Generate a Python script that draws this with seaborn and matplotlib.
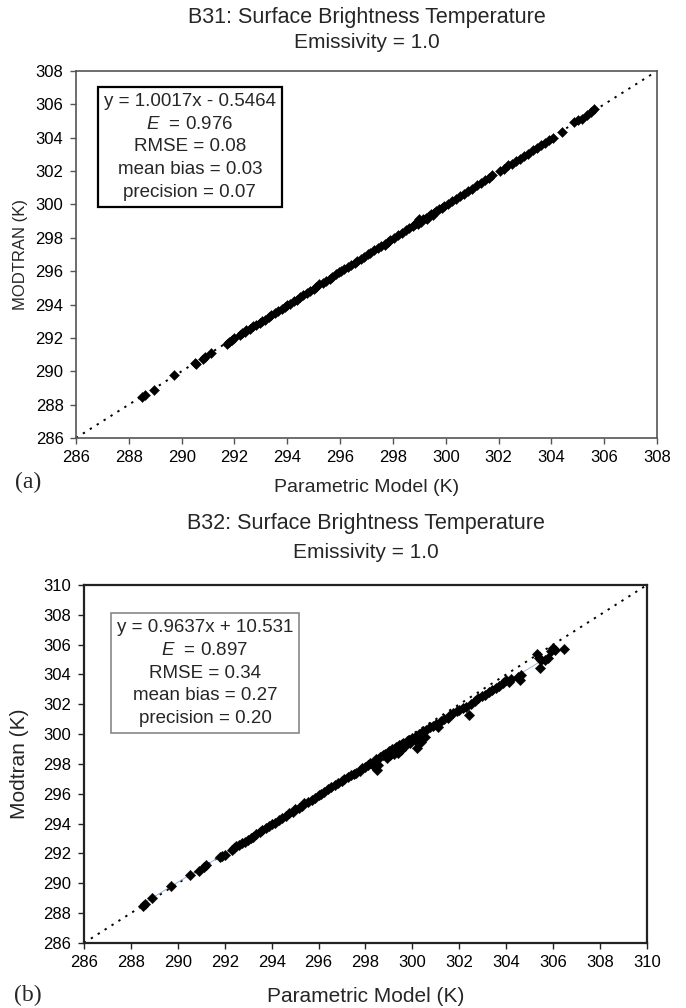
import matplotlib
matplotlib.use("Agg")
import matplotlib.pyplot as plt
import seaborn as sns
import pandas as pd

# B31 panel: parametric model vs MODTRAN brightness temperature (K)
b31_param = [288.5, 288.6, 288.95, 289.7, 290.5, 290.55, 290.8, 290.9, 291.1, 291.7,
             291.8, 291.9, 292.0, 292.2, 292.3, 292.4, 292.45, 292.6, 292.7, 292.8,
             292.95, 293.05, 293.15, 293.3, 293.4, 293.55, 293.65, 293.8, 293.9, 294.0,
             294.1, 294.25, 294.35, 294.5, 294.6, 294.75, 294.85, 295.0, 295.1, 295.2,
             295.35, 295.45, 295.6, 295.7, 295.85, 295.95, 296.05, 296.15, 296.3, 296.4,
             296.55, 296.65, 296.8, 296.9, 297.05, 297.15, 297.3, 297.45, 297.55, 297.7,
             297.8, 297.9, 298.05, 298.2, 298.35, 298.5, 298.6, 298.75, 298.85, 298.95,
             299.05, 299.15, 299.25, 299.35, 299.45, 299.55, 299.65, 299.75, 299.85, 299.95,
             300.1, 300.25, 300.4, 300.55, 300.7, 300.85, 301.0, 301.2, 301.35, 301.5,
             301.65, 301.75, 302.05, 302.2, 302.35, 302.5, 302.65, 302.8, 302.95, 303.1,
             303.3, 303.45, 303.6, 303.75, 303.9, 304.05, 304.4, 304.85, 305.0, 305.15,
             305.35, 305.5, 305.6, 299.0, 299.3, 299.5, 298.9, 297.7]
b31_modtran = [288.45, 288.55, 288.9, 289.75, 290.5, 290.45, 290.75, 290.85, 291.1, 291.65,
               291.75, 291.85, 292.0, 292.15, 292.3, 292.35, 292.5, 292.55, 292.7, 292.75,
               292.9, 293.0, 293.1, 293.25, 293.4, 293.5, 293.6, 293.75, 293.85, 294.0,
               294.05, 294.2, 294.3, 294.45, 294.6, 294.7, 294.8, 294.95, 295.05, 295.2,
               295.3, 295.4, 295.55, 295.65, 295.8, 295.95, 296.0, 296.1, 296.25, 296.35,
               296.5, 296.6, 296.75, 296.85, 297.0, 297.1, 297.25, 297.4, 297.5, 297.65,
               297.75, 297.85, 298.0, 298.15, 298.3, 298.45, 298.6, 298.7, 298.8, 298.85,
               298.95, 299.1, 299.2, 299.3, 299.45, 299.5, 299.6, 299.7, 299.8, 299.9,
               300.05, 300.2, 300.35, 300.5, 300.65, 300.8, 300.95, 301.15, 301.3, 301.45,
               301.6, 301.75, 302.0, 302.15, 302.35, 302.45, 302.6, 302.75, 302.9, 303.05,
               303.25, 303.4, 303.55, 303.7, 303.85, 304.0, 304.35, 304.95, 305.05, 305.1,
               305.35, 305.55, 305.7, 299.1, 299.15, 299.35, 298.95, 297.55]

# B32 panel
b32_param = [288.5, 288.6, 288.9, 289.7, 290.5, 290.9, 291.1, 291.2, 291.8, 291.9,
             292.0, 292.3, 292.4, 292.5, 292.6, 292.75, 292.85, 293.0, 293.1, 293.2,
             293.35, 293.5, 293.6, 293.75, 293.9, 294.0, 294.15, 294.3, 294.45, 294.6,
             294.75, 294.9, 295.0, 295.15, 295.3, 295.4, 295.55, 295.7, 295.85, 296.0,
             296.1, 296.25, 296.4, 296.55, 296.7, 296.85, 297.0, 297.1, 297.25, 297.4,
             297.5, 297.6, 297.75, 297.85, 298.0, 298.1, 298.2, 298.3, 298.4, 298.5,
             298.45, 298.6, 298.75, 298.85, 298.9, 299.0, 299.05, 299.15, 299.2, 299.3,
             299.35, 299.45, 299.5, 299.6, 299.7, 299.75, 299.85, 299.9, 300.0, 300.1,
             300.15, 300.2, 300.3, 300.35, 300.45, 300.55, 300.6, 300.75, 300.9, 301.0,
             301.1, 301.2, 301.35, 301.5, 301.6, 301.75, 301.9, 302.0, 302.15, 302.3,
             302.4, 302.5, 302.65, 302.8, 302.95, 303.1, 303.25, 303.4, 303.55, 303.7,
             303.85, 304.0, 304.1, 304.2, 304.5, 304.65, 304.6, 305.4, 305.45, 305.5,
             305.65, 305.8, 305.9, 306.0, 306.1, 306.45, 305.3, 298.55, 299.4, 300.25]
b32_modtran = [288.5, 288.6, 289.0, 289.8, 290.55, 290.85, 291.1, 291.2, 291.75, 291.85,
               291.9, 292.2, 292.4, 292.5, 292.55, 292.7, 292.8, 292.9, 293.05, 293.1,
               293.3, 293.45, 293.55, 293.7, 293.85, 293.95, 294.05, 294.25, 294.4, 294.5,
               294.7, 294.8, 294.95, 295.05, 295.2, 295.35, 295.45, 295.6, 295.75, 295.9,
               296.0, 296.15, 296.3, 296.45, 296.6, 296.75, 296.85, 297.0, 297.1, 297.25,
               297.35, 297.4, 297.55, 297.7, 297.8, 297.95, 298.05, 297.9, 297.8, 297.6,
               298.3, 298.45, 298.6, 298.65, 298.4, 298.85, 298.6, 299.0, 298.7, 299.15,
               298.9, 299.25, 298.95, 299.4, 299.2, 299.55, 299.6, 299.4, 299.75, 299.6,
               299.9, 299.1, 300.0, 299.5, 300.2, 299.8, 300.3, 300.45, 300.55, 300.7,
               300.5, 300.85, 301.0, 301.1, 301.25, 301.4, 301.55, 301.6, 301.75, 301.85,
               301.3, 302.05, 302.2, 302.4, 302.55, 302.65, 302.8, 302.95, 303.1, 303.2,
               303.4, 303.6, 303.5, 303.7, 303.8, 303.95, 303.6, 305.1, 304.4, 304.95,
               305.0, 305.1, 305.6, 305.75, 305.65, 305.7, 305.35, 297.95, 298.75, 299.6]

b31_ticks = list(range(286, 309, 2))
b32_ticks = list(range(286, 311, 2))

b31_stats = "y = 1.0017x - 0.5464\n$\\it{E}$  = 0.976\nRMSE = 0.08\nmean bias = 0.03\nprecision = 0.07"
b32_stats = "y = 0.9637x + 10.531\n$\\it{E}$  = 0.897\nRMSE = 0.34\nmean bias = 0.27\nprecision = 0.20"

sns.set_theme(style="white")
plt.rcParams['font.family'] = ['Liberation Sans', 'DejaVu Sans']
plt.rcParams['mathtext.fontset'] = 'custom'
plt.rcParams['mathtext.it'] = 'Liberation Sans:italic'
plt.rcParams['mathtext.rm'] = 'Liberation Sans'

df_a = pd.DataFrame({'param': b31_param, 'modtran': b31_modtran})
df_b = pd.DataFrame({'param': b32_param, 'modtran': b32_modtran})

fig = plt.figure(figsize=(6.86, 10.08), dpi=100)
ax_a = fig.add_axes([0.1108, 0.5655, 0.8469, 0.3641])
ax_b = fig.add_axes([0.1224, 0.0645, 0.8207, 0.3552])


def style_axes(ax, ticks, spine_color, spine_lw, tick_size):
    ax.set_xlim(ticks[0], ticks[-1])
    ax.set_ylim(ticks[0], ticks[-1])
    ax.set_xticks(ticks)
    ax.set_yticks(ticks)
    for s in ax.spines.values():
        s.set_color(spine_color)
        s.set_linewidth(spine_lw)
    ax.tick_params(axis='both', which='major', direction='out', length=4, width=1,
                   color=spine_color, labelcolor='black', pad=5, bottom=True, left=True)
    for lab in ax.get_xticklabels() + ax.get_yticklabels():
        lab.set_fontsize(tick_size)


# panel (a)
ax_a.axline((286, 286), slope=1, color='black', lw=1.4, linestyle=(0, (1.2, 3.0)), zorder=1)
sns.scatterplot(data=df_a, x='param', y='modtran', ax=ax_a, marker='D', s=26,
                color='black', edgecolor='black', linewidth=0.3, zorder=3)
style_axes(ax_a, b31_ticks, '#555555', 1.2, 12)
ax_a.set_xlabel('Parametric Model (K)', fontsize=14, labelpad=10)
ax_a.set_ylabel('MODTRAN (K)', fontsize=12, labelpad=5)
ax_a.text(0.196, 0.793, b31_stats, transform=ax_a.transAxes, ha='center', va='center',
          multialignment='center', fontsize=13.5, linespacing=1.45,
          bbox=dict(boxstyle='square,pad=0.3', fc='white', ec='black', lw=1.6))

# panel (b)
ax_b.axline((286, 286), slope=1, color='black', lw=1.4, linestyle=(0, (1.2, 3.0)), zorder=1)
sns.regplot(data=df_b, x='param', y='modtran', ax=ax_b, scatter=False, ci=None,
            truncate=True, line_kws={'color': '#8fa8d8', 'lw': 0.6, 'zorder': 2})
sns.scatterplot(data=df_b, x='param', y='modtran', ax=ax_b, marker='D', s=28,
                color='black', edgecolor='black', linewidth=0.3, zorder=3)
style_axes(ax_b, b32_ticks, '#222222', 1.6, 12)
ax_b.set_xlabel('Parametric Model (K)', fontsize=15, labelpad=12)
ax_b.set_ylabel('Modtran (K)', fontsize=15, labelpad=10)
ax_b.text(0.215, 0.754, b32_stats, transform=ax_b.transAxes, ha='center', va='center',
          multialignment='center', fontsize=13.5, linespacing=1.45,
          bbox=dict(boxstyle='square,pad=0.3', fc='white', ec='#888888', lw=1.2))

# titles
cx_a = 0.1108 + 0.8469 / 2
cx_b = 0.1224 + 0.8207 / 2
fig.text(cx_a, 1 - 17 / 1008, 'B31: Surface Brightness Temperature', ha='center', va='center', fontsize=15.5)
fig.text(cx_a, 1 - 43 / 1008, 'Emissivity = 1.0', ha='center', va='center', fontsize=15)
fig.text(cx_b, 1 - 523 / 1008, 'B32: Surface Brightness Temperature', ha='center', va='center', fontsize=15.5)
fig.text(cx_b, 1 - 553 / 1008, 'Emissivity = 1.0', ha='center', va='center', fontsize=15)

fig.text(28 / 686, 1 - 482 / 1008, '(a)', ha='center', va='center', fontsize=17, family='Liberation Serif')
fig.text(28 / 686, 1 - 995 / 1008, '(b)', ha='center', va='center', fontsize=17, family='Liberation Serif')

fig.savefig('out.png', dpi=100)
